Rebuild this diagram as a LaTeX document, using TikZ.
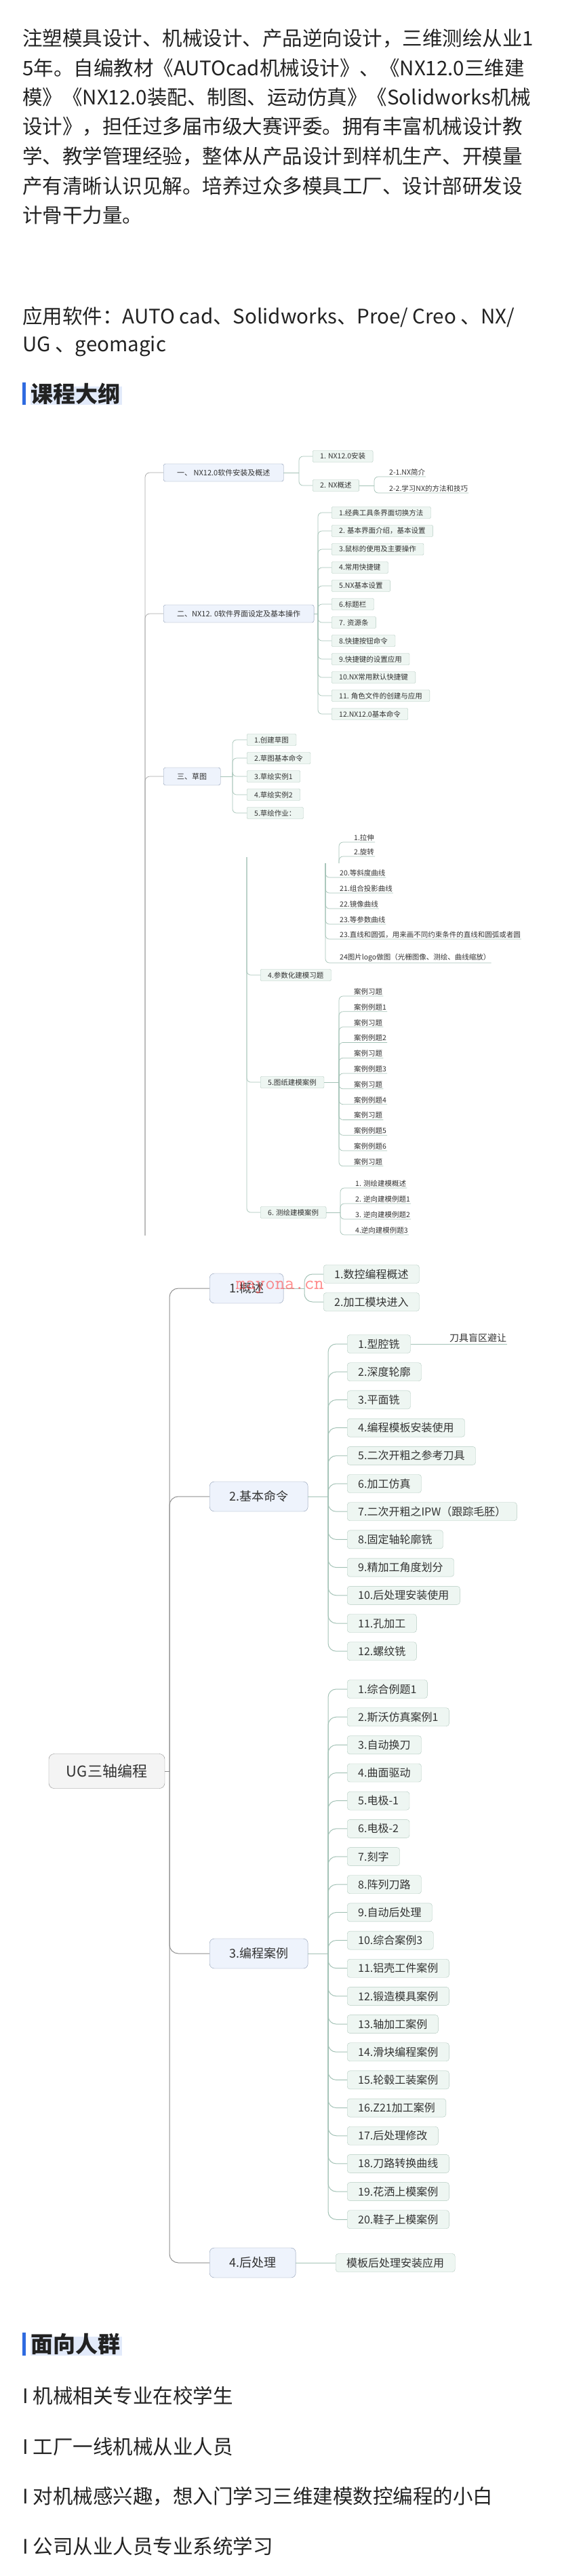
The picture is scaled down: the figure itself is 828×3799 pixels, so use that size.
\documentclass[tikz,border=0pt]{standalone}
\usepackage{fontspec}
\setmainfont{Noto Sans CJK SC}
\usetikzlibrary{positioning}

\definecolor{bodytext}{HTML}{222222}
\definecolor{headbar}{HTML}{2F6BE0}
\definecolor{headhl}{HTML}{E2EAFA}
\definecolor{mapword}{HTML}{333333}
\definecolor{mapline}{HTML}{8E8E8E}
\definecolor{subline}{HTML}{A3C2B6}
\definecolor{topfill}{HTML}{EEF3FC}
\definecolor{topdraw}{HTML}{8A99B3}
\definecolor{subfill}{HTML}{EEF6F2}
\definecolor{subdraw}{HTML}{B2CABF}
\definecolor{rootfill}{HTML}{F4F4F4}

\begin{document}
\begin{tikzpicture}[x=1pt, y=-1pt,
  para/.style={anchor=west, inner sep=0pt, text=bodytext, font=\fontsize{29.5}{43}\selectfont},
  headtxt/.style={anchor=west, inner sep=0pt, text=bodytext, font=\fontsize{33}{40}\selectfont\bfseries},
  atop/.style={draw=topdraw, fill=topfill, rounded corners=3pt, anchor=west, minimum height=26,
               inner xsep=20, inner ysep=0, text=mapword, font=\fontsize{11}{13}\selectfont},
  asub/.style={draw=subdraw, fill=subfill, rounded corners=2pt, anchor=west, minimum height=17,
               inner xsep=11, inner ysep=0, text=mapword, font=\fontsize{10.5}{12}\selectfont},
  aleaf/.style={anchor=south west, inner xsep=1, inner ysep=1.5, text=mapword,
                font=\fontsize{10.5}{12}\selectfont},
  alink/.style={draw=mapline!80, line width=0.7, rounded corners=7},
  asublink/.style={draw=subline, line width=0.7, rounded corners=6},
  broot/.style={draw=mapline, fill=rootfill, rounded corners=8pt, minimum height=51,
                inner xsep=26, text=mapword, font=\fontsize{22}{26}\selectfont},
  btop/.style={draw=topdraw, fill=topfill, rounded corners=7pt, anchor=west, minimum height=44,
               inner xsep=29, text=mapword, font=\fontsize{18}{22}\selectfont},
  bsub/.style={draw=subdraw, fill=subfill, rounded corners=4pt, anchor=west, minimum height=27,
               inner xsep=16, inner ysep=0, text=mapword, font=\fontsize{16}{19}\selectfont},
  bleaf/.style={anchor=south west, inner xsep=1, inner ysep=2, text=mapword,
                font=\fontsize{14}{17}\selectfont},
  blink/.style={draw=mapline, line width=1, rounded corners=13},
  bsublink/.style={draw=subline, line width=1, rounded corners=12},
  wmark/.style={text=red!75!white, opacity=0.6, inner sep=0pt, font=\fontsize{28}{30}\ttfamily}
]
\fill[white] (0,0) rectangle (828,3799);
\useasboundingbox (0,0) rectangle (828,3799);

%% INTRO
\node[para] (l1) at (33,57)  {注塑模具设计、机械设计、产品逆向设计，三维测绘从业1};
\node[para] (l2) at (33,100) {5年。自编教材《AUTOcad机械设计》、《NX12.0三维建};
\node[para] (l3) at (33,143) {模》《NX12.0装配、制图、运动仿真》《Solidworks机械};
\node[para] (l4) at (33,187) {设计》，担任过多届市级大赛评委。拥有丰富机械设计教};
\node[para] (l5) at (33,231) {学、教学管理经验，整体从产品设计到样机生产、开模量};
\node[para] (l6) at (33,274) {产有清晰认识见解。培养过众多模具工厂、设计部研发设};
\node[para] (l7) at (33,317) {计骨干力量。};
\node[para] (sw1) at (33,468) {应用软件：AUTO cad、Solidworks、Proe/ Creo 、NX/};
\node[para] (sw2) at (33,511) {UG 、geomagic};

%% OUTLINE HEADING
\fill[headbar] (33,564) rectangle (38,597);
\fill[headhl] (45,570) rectangle (180,597);
\node[headtxt] (hd1) at (45,581) {课程大纲};

%% NX MAP (cut off at the bottom)
\begin{scope}
\clip (0,640) rectangle (828,1822);
\node[atop] (t1) at (241,697)  {一、 NX12.0软件安装及概述};
\node[atop] (t2) at (241,905)  {二、NX12. 0软件界面设定及基本操作};
\node[atop] (t3) at (241,1145) {三、草图};
\draw[alink] (214,1822) |- (t1.west);
\draw[alink] (214,1822) |- (t2.west);
\draw[alink] (214,1822) |- (t3.west);
% 一
\node[asub] (t1a) at (461,673) {1. NX12.0安装};
\node[asub] (t1b) at (461,716) {2. NX概述};
\draw[asublink] (t1.east) -- (441,697);
\draw[asublink] (441,697) |- (t1a.west);
\draw[asublink] (441,697) |- (t1b.west);
\node[aleaf] (t1b1) at (573,703) {2-1.NX简介};
\node[aleaf] (t1b2) at (573,727) {2-2.学习NX的方法和技巧};
\draw[asublink] (t1b.east) -- (552,716);
\draw[asublink] (552,716) |- (t1b1.south east);
\draw[asublink] (552,716) |- (t1b2.south east);
% 二
\draw[asublink] (t2.east) -- (469,905);
\foreach \txt [count=\i from 0] in {1.经典工具条界面切换方法, 2. 基本界面介绍，基本设置,
    3.鼠标的使用及主要操作, 4.常用快捷键, 5.NX基本设置, 6.标题栏, 7. 资源条, 8.快捷按钮命令,
    9.快捷键的设置应用, 10.NX常用默认快捷键, 11. 角色文件的创建与应用, 12.NX12.0基本命令}{
  \node[asub] (s\i) at (489,{756+27*\i}) {\txt};
  \draw[asublink] (469,905) |- (s\i.west);
}
% 三
\draw[asublink] (t3.east) -- (343,1145);
\foreach \txt [count=\i from 0] in {1.创建草图, 2.草图基本命令, 3.草绘实例1, 4.草绘实例2, 5.草绘作业：}{
  \node[asub] (c\i) at (364,{1091+27*\i}) {\txt};
  \draw[asublink] (343,1145) |- (c\i.west);
}
% modelling branch
\node[asub] (u4) at (384,1438) {4.参数化建模习题};
\node[asub] (u5) at (384,1596) {5.图纸建模案例};
\node[asub] (u6) at (384,1788) {6. 测绘建模案例};
\draw[asublink] (364,1264) |- (u4.west);
\draw[asublink] (364,1264) |- (u5.west);
\draw[asublink] (364,1264) |- (u6.west);
\node[aleaf] (q1) at (521,1242) {1.拉伸};
\node[aleaf] (q2) at (521,1263) {2.旋转};
\draw[asublink] (500,1273) |- (q1.south east);
\draw[asublink] (500,1273) |- (q2.south east);
\foreach \txt/\yy [count=\i] in {20.等斜度曲线/1294, 21.组合投影曲线/1317, 22.镜像曲线/1340,
    23.等参数曲线/1363, 23.直线和圆弧，用来画不同约束条件的直线和圆弧或者圆/1385,
    24图片logo做图（光栅图像、测绘、曲线缩放）/1420}{
  \node[aleaf] (p\i) at (500,\yy) {\txt};
  \draw[asublink] (480,1273) |- (p\i.south east);
}
\draw[asublink] (u5.east) -- (500,1596);
\foreach \txt [count=\i from 0] in {案例习题, 案例例题1, 案例习题, 案例例题2, 案例习题, 案例例题3,
    案例习题, 案例例题4, 案例习题, 案例例题5, 案例例题6, 案例习题}{
  \node[aleaf] (e\i) at (521,{1469+22.8*\i}) {\txt};
  \draw[asublink] (500,1596) |- (e\i.south east);
}
\draw[asublink] (u6.east) -- (502,1788);
\foreach \txt [count=\i from 0] in {1. 测绘建模概述, 2. 逆向建模例题1, 3. 逆向建模例题2, 4.逆向建模例题3}{
  \node[aleaf] (r\i) at (523,{1752+23*\i}) {\txt};
  \draw[asublink] (502,1788) |- (r\i.south east);
}
\end{scope}

%% UG MAP
\node[broot] (ug) at (157.5,2612) {UG三轴编程};
\coordinate (ugt) at (250,2612);
\draw[blink] (ug.east) -- (ugt);
\node[btop] (g1) at (309,1900) {1.概述};
\node[btop] (g2) at (309,2207) {2.基本命令};
\node[btop] (g3) at (309,2881) {3.编程案例};
\node[btop] (g4) at (309,3337) {4.后处理};
\foreach \i in {1,...,4}
  \draw[blink] (ugt) |- (g\i.west);
% 概述
\node[bsub] (o1) at (477,1879) {1.数控编程概述};
\node[bsub] (o2) at (477,1920) {2.加工模块进入};
\draw[bsublink] (g1.east) -- (449,1900);
\draw[bsublink] (449,1900) |- (o1.west);
\draw[bsublink] (449,1900) |- (o2.west);
% 基本命令
\draw[bsublink] (g2.east) -- (484,2207);
\foreach \txt [count=\i from 0] in {1.型腔铣, 2.深度轮廓, 3.平面铣, 4.编程模板安装使用, 5.二次开粗之参考刀具,
    6.加工仿真, 7.二次开粗之IPW（跟踪毛胚）, 8.固定轴轮廓铣, 9.精加工角度划分, 10.后处理安装使用,
    11.孔加工, 12.螺纹铣}{
  \node[bsub] (m\i) at (512,{1982+41.2*\i}) {\txt};
  \draw[bsublink] (484,2207) |- (m\i.west);
}
\node[bleaf] (m0a) at (662,1982) {刀具盲区避让};
\draw[bsublink] (m0.east) -- (m0a.south east);
% 编程案例
\draw[bsublink] (g3.east) -- (484,2881);
\foreach \txt [count=\i from 0] in {1.综合例题1, 2.斯沃仿真案例1, 3.自动换刀, 4.曲面驱动, 5.电极-1, 6.电极-2,
    7.刻字, 8.阵列刀路, 9.自动后处理, 10.综合案例3, 11.铝壳工件案例, 12.锻造模具案例, 13.轴加工案例,
    14.滑块编程案例, 15.轮毂工装案例, 16.Z21加工案例, 17.后处理修改, 18.刀路转换曲线, 19.花洒上模案例,
    20.鞋子上模案例}{
  \node[bsub] (k\i) at (512,{2491+41.17*\i}) {\txt};
  \draw[bsublink] (484,2881) |- (k\i.west);
}
% 后处理
\node[bsub] (z1) at (495,3337) {模板后处理安装应用};
\draw[bsublink] (g4.east) -- (z1.west);
\node[wmark] (wm) at (413,1899) {mayona.cn};

%% AUDIENCE
\fill[headbar] (33,3440) rectangle (38,3474);
\fill[headhl] (45,3446) rectangle (180,3474);
\node[headtxt] (hd2) at (45,3457) {面向人群};
\foreach \txt/\yy [count=\i] in {机械相关专业在校学生/3533, 工厂一线机械从业人员/3608,
    对机械感兴趣，想入门学习三维建模数控编程的小白/3682, 公司从业人员专业系统学习/3755}{
  \node[para] (aud\i) at (33,\yy) {I\hspace{7pt}\txt};
}
\end{tikzpicture}
\end{document}
